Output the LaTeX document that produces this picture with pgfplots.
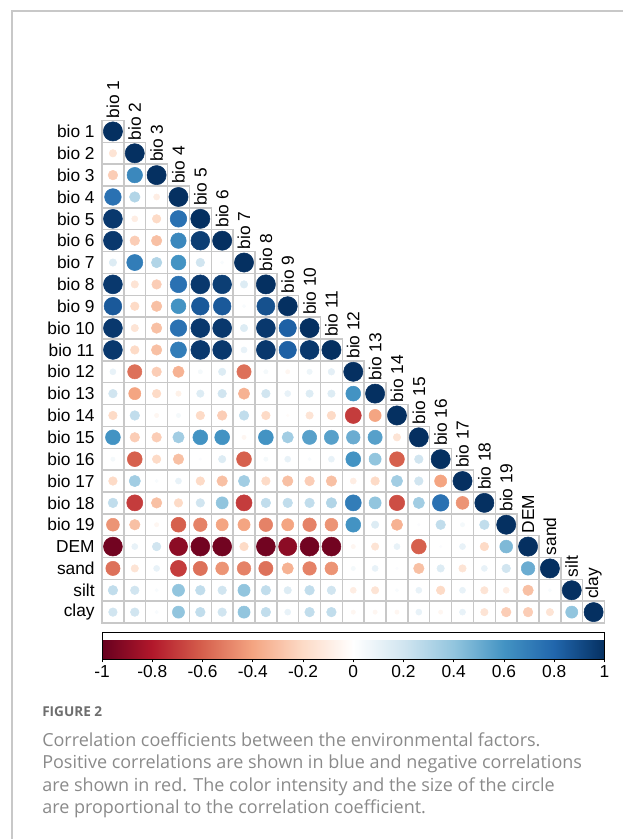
\documentclass[border=0pt]{standalone}
\usepackage{pgfplots}
\pgfplotsset{compat=1.18}
\usepackage{pgfplotstable}
\usepackage{fontspec}
\setmainfont{Liberation Sans}
\newfontfamily\capfont{Open Sans}
\definecolor{cellgrid}{HTML}{C8C8C8}
\definecolor{capgray}{HTML}{8A8A8A}
\definecolor{figgray}{HTML}{6E6E6E}
\definecolor{framegray}{HTML}{C8C8C8}

\pgfplotstableread[row sep=\\]{
x y r\\
1 1 1\\
1 2 -0.15\\ 2 2 1\\
1 3 -0.25\\ 2 3 0.65\\ 3 3 1\\
1 4 0.75\\ 2 4 0.30\\ 3 4 -0.10\\ 4 4 1\\
1 5 0.97\\ 2 5 -0.10\\ 3 5 -0.20\\ 4 5 0.75\\ 5 5 1\\
1 6 0.97\\ 2 6 -0.25\\ 3 6 -0.30\\ 4 6 0.65\\ 5 6 0.95\\ 6 6 1\\
1 7 0.15\\ 2 7 0.70\\ 3 7 0.30\\ 4 7 0.60\\ 5 7 0.20\\ 6 7 0.03\\ 7 7 1\\
1 8 0.97\\ 2 8 -0.15\\ 3 8 -0.25\\ 4 8 0.75\\ 5 8 0.97\\ 6 8 0.95\\ 7 8 0.15\\ 8 8 1\\
1 9 0.85\\ 2 9 -0.20\\ 3 9 -0.30\\ 4 9 0.60\\ 5 9 0.85\\ 6 9 0.85\\ 7 9 0.03\\ 8 9 0.88\\ 9 9 1\\
1 10 0.97\\ 2 10 -0.15\\ 3 10 -0.30\\ 4 10 0.75\\ 5 10 0.97\\ 6 10 0.97\\ 7 10 0.15\\ 8 10 0.97\\ 9 10 0.82\\ 10 10 1\\
1 11 0.97\\ 2 11 -0.20\\ 3 11 -0.30\\ 4 11 0.70\\ 5 11 0.97\\ 6 11 0.97\\ 7 11 0.10\\ 8 11 0.97\\ 9 11 0.82\\ 10 11 0.97\\ 11 11 1\\
1 12 0.10\\ 2 12 -0.55\\ 3 12 -0.25\\ 4 12 -0.35\\ 5 12 0.05\\ 6 12 0.15\\ 7 12 -0.55\\ 8 12 0.05\\ 9 12 -0.05\\ 10 12 0.08\\ 11 12 0.12\\ 12 12 1\\
1 13 0.20\\ 2 13 -0.40\\ 3 13 -0.20\\ 4 13 -0.08\\ 5 13 0.15\\ 6 13 0.20\\ 7 13 -0.35\\ 8 13 0.20\\ 9 13 0.10\\ 10 13 0.15\\ 11 13 0.15\\ 12 13 0.60\\ 13 13 1\\
1 14 -0.20\\ 2 14 0.25\\ 3 14 -0.05\\ 4 14 0.05\\ 5 14 -0.20\\ 6 14 -0.25\\ 7 14 0.25\\ 8 14 -0.20\\ 9 14 -0.02\\ 10 14 -0.15\\ 11 14 -0.20\\ 12 14 -0.70\\ 13 14 -0.40\\ 14 14 1\\
1 15 0.60\\ 2 15 -0.25\\ 3 15 -0.25\\ 4 15 0.35\\ 5 15 0.60\\ 6 15 0.60\\ 7 15 -0.05\\ 8 15 0.60\\ 9 15 0.35\\ 10 15 0.55\\ 11 15 0.55\\ 12 15 0.50\\ 13 15 0.55\\ 14 15 -0.15\\ 15 15 1\\
1 16 0.05\\ 2 16 -0.60\\ 3 16 -0.20\\ 4 16 -0.30\\ 5 16 0.02\\ 6 16 0.15\\ 7 16 -0.60\\ 8 16 0.05\\ 9 16 0.10\\ 10 16 0.03\\ 11 16 0.10\\ 12 16 0.60\\ 13 16 0.40\\ 14 16 -0.60\\ 15 16 0.20\\ 16 16 1\\
1 17 -0.20\\ 2 17 0.35\\ 3 17 0.03\\ 4 17 0.10\\ 5 17 -0.20\\ 6 17 -0.30\\ 7 17 0.35\\ 8 17 -0.20\\ 9 17 -0.30\\ 10 17 -0.25\\ 11 17 -0.30\\ 12 17 -0.10\\ 13 17 -0.20\\ 14 17 0.35\\ 15 17 0.20\\ 16 17 -0.40\\ 17 17 1\\
1 18 0.25\\ 2 18 -0.70\\ 3 18 -0.30\\ 4 18 -0.20\\ 5 18 0.20\\ 6 18 0.40\\ 7 18 -0.70\\ 8 18 0.25\\ 9 18 0.25\\ 10 18 0.25\\ 11 18 0.30\\ 12 18 0.70\\ 13 18 0.40\\ 14 18 -0.65\\ 15 18 0.35\\ 16 18 0.75\\ 17 18 -0.45\\ 18 18 1\\
1 19 -0.45\\ 2 19 -0.30\\ 3 19 -0.05\\ 4 19 -0.60\\ 5 19 -0.50\\ 6 19 -0.40\\ 7 19 -0.40\\ 8 19 -0.50\\ 9 19 -0.40\\ 10 19 -0.50\\ 11 19 -0.45\\ 12 19 0.60\\ 13 19 0.15\\ 14 19 -0.35\\ 15 19 0.02\\ 16 19 0.25\\ 17 19 0.05\\ 18 19 0.25\\ 19 19 1\\
1 20 -0.97\\ 2 20 0.10\\ 3 20 0.20\\ 4 20 -0.90\\ 5 20 -0.97\\ 6 20 -0.97\\ 7 20 -0.20\\ 8 20 -0.97\\ 9 20 -0.90\\ 10 20 -0.97\\ 11 20 -0.97\\ 12 20 -0.05\\ 13 20 -0.15\\ 14 20 0.10\\ 15 20 -0.60\\ 16 20 0.02\\ 17 20 0.10\\ 18 20 -0.20\\ 19 20 0.45\\ 20 20 1\\
1 21 -0.55\\ 2 21 -0.15\\ 3 21 0.10\\ 4 21 -0.70\\ 5 21 -0.55\\ 6 21 -0.45\\ 7 21 -0.50\\ 8 21 -0.55\\ 9 21 -0.35\\ 10 21 -0.50\\ 11 21 -0.45\\ 12 21 0.05\\ 13 21 0.10\\ 14 21 0.02\\ 15 21 -0.30\\ 16 21 0.15\\ 17 21 -0.15\\ 18 21 0.10\\ 19 21 0.20\\ 20 21 0.50\\ 21 21 1\\
1 22 0.25\\ 2 22 0.20\\ 3 22 0.03\\ 4 22 0.40\\ 5 22 0.25\\ 6 22 0.20\\ 7 22 0.40\\ 8 22 0.25\\ 9 22 0.15\\ 10 22 0.25\\ 11 22 0.20\\ 12 22 -0.10\\ 13 22 -0.15\\ 14 22 0.03\\ 15 22 0.10\\ 16 22 -0.20\\ 17 22 0.10\\ 18 22 -0.15\\ 19 22 -0.10\\ 20 22 -0.30\\ 21 22 0.03\\ 22 22 1\\
1 23 0.20\\ 2 23 0.20\\ 3 23 0.03\\ 4 23 0.40\\ 5 23 0.25\\ 6 23 0.20\\ 7 23 0.40\\ 8 23 0.25\\ 9 23 0.10\\ 10 23 0.25\\ 11 23 0.25\\ 12 23 -0.05\\ 13 23 -0.05\\ 14 23 -0.05\\ 15 23 0.10\\ 16 23 -0.05\\ 17 23 0.10\\ 18 23 -0.15\\ 19 23 -0.25\\ 20 23 -0.25\\ 21 23 -0.15\\ 22 23 0.40\\ 23 23 1\\
}\corr

\newcommand{\lab}{\fontsize{13}{13}\selectfont}

\begin{document}
\begin{tikzpicture}[x=0.75pt,y=-0.75pt]
\path[use as bounding box] (0,0) rectangle (623,839);
\draw[framegray, line width=0.9pt] (12,839) -- (12,11) -- (623,11);
\begin{axis}[
  at={(76.5pt,-90.375pt)}, anchor=north west,
  scale only axis, width=376.9pt, height=376.9pt,
  xmin=0.5, xmax=23.5, ymin=0.5, ymax=23.5, y dir=reverse,
  axis line style={draw=none},
  clip=false,
  xtick=\empty,
  ytick={1,2,3,4,5,6,7,8,9,10,11,12,13,14,15,16,17,18,19,20,21,22,23},
  yticklabels={bio 1,bio 2,bio 3,bio 4,bio 5,bio 6,bio 7,bio 8,bio 9,bio 10,bio 11,bio 12,bio 13,bio 14,bio 15,bio 16,bio 17,bio 18,bio 19,DEM,sand,silt,clay},
  major tick length=0pt,
  yticklabel style={font=\lab, xshift=-2pt},
  colormap={rdbu}{rgb255=(103,0,31) rgb255=(178,24,43) rgb255=(214,96,77) rgb255=(244,165,130) rgb255=(253,219,199) rgb255=(255,255,255) rgb255=(209,229,240) rgb255=(146,197,222) rgb255=(67,147,195) rgb255=(33,102,172) rgb255=(5,48,97)},
  point meta min=-1, point meta max=1,
  colorbar horizontal,
  colorbar style={
    at={(parent axis.south west)}, anchor=north west, yshift=1.5pt,
    scale only axis, width=376.9pt, height=20pt,
    xtick={-1,-0.8,-0.6,-0.4,-0.2,0,0.2,0.4,0.6,0.8,1},
    xticklabel style={font=\lab, yshift=1.5pt},
    /pgf/number format/assume math mode=true,
    xtick pos=left, xtick align=outside,
    major tick length=2.5pt,
    axis line style={black, line width=0.6pt},
    tick style={black, line width=0.5pt},
  },
]
\addplot[only marks, mark=square, mark size=8.19pt,
  mark options={draw=cellgrid, line width=1.1pt}] table[x=x, y=y] {\corr};
\addplot[scatter, only marks, mark=*, scatter src=explicit,
  scatter/use mapped color={draw=mapped color, fill=mapped color},
  visualization depends on={7.2*sqrt(abs(\thisrow{r})) \as \rad},
  scatter/@pre marker code/.append style={/tikz/mark size=\rad, /tikz/line width=0.2pt}] table[x=x, y=y, meta=r] {\corr};
\node[rotate=90, anchor=west, inner sep=1.5pt, font=\lab] at (axis cs:1,0.5) {bio 1};
\node[rotate=90, anchor=west, inner sep=1.5pt, font=\lab] at (axis cs:2,1.5) {bio 2};
\node[rotate=90, anchor=west, inner sep=1.5pt, font=\lab] at (axis cs:3,2.5) {bio 3};
\node[rotate=90, anchor=west, inner sep=1.5pt, font=\lab] at (axis cs:4,3.5) {bio 4};
\node[rotate=90, anchor=west, inner sep=1.5pt, font=\lab] at (axis cs:5,4.5) {bio 5};
\node[rotate=90, anchor=west, inner sep=1.5pt, font=\lab] at (axis cs:6,5.5) {bio 6};
\node[rotate=90, anchor=west, inner sep=1.5pt, font=\lab] at (axis cs:7,6.5) {bio 7};
\node[rotate=90, anchor=west, inner sep=1.5pt, font=\lab] at (axis cs:8,7.5) {bio 8};
\node[rotate=90, anchor=west, inner sep=1.5pt, font=\lab] at (axis cs:9,8.5) {bio 9};
\node[rotate=90, anchor=west, inner sep=1.5pt, font=\lab] at (axis cs:10,9.5) {bio 10};
\node[rotate=90, anchor=west, inner sep=1.5pt, font=\lab] at (axis cs:11,10.5) {bio 11};
\node[rotate=90, anchor=west, inner sep=1.5pt, font=\lab] at (axis cs:12,11.5) {bio 12};
\node[rotate=90, anchor=west, inner sep=1.5pt, font=\lab] at (axis cs:13,12.5) {bio 13};
\node[rotate=90, anchor=west, inner sep=1.5pt, font=\lab] at (axis cs:14,13.5) {bio 14};
\node[rotate=90, anchor=west, inner sep=1.5pt, font=\lab] at (axis cs:15,14.5) {bio 15};
\node[rotate=90, anchor=west, inner sep=1.5pt, font=\lab] at (axis cs:16,15.5) {bio 16};
\node[rotate=90, anchor=west, inner sep=1.5pt, font=\lab] at (axis cs:17,16.5) {bio 17};
\node[rotate=90, anchor=west, inner sep=1.5pt, font=\lab] at (axis cs:18,17.5) {bio 18};
\node[rotate=90, anchor=west, inner sep=1.5pt, font=\lab] at (axis cs:19,18.5) {bio 19};
\node[rotate=90, anchor=west, inner sep=1.5pt, font=\lab] at (axis cs:20,19.5) {DEM};
\node[rotate=90, anchor=west, inner sep=1.5pt, font=\lab] at (axis cs:21,20.5) {sand};
\node[rotate=90, anchor=west, inner sep=1.5pt, font=\lab] at (axis cs:22,21.5) {silt};
\node[rotate=90, anchor=west, inner sep=1.5pt, font=\lab] at (axis cs:23,22.5) {clay};
\end{axis}
\node[anchor=base west, inner sep=0, text=figgray, font=\capfont\bfseries\fontsize{10.2}{11}\selectfont] at (42,716.5) {FIGURE 2};
\node[anchor=base west, inner sep=0, text=capgray, font=\capfont\fontsize{13.5}{15}\selectfont] at (42,746) {Correlation coefficients between the environmental factors.};
\node[anchor=base west, inner sep=0, text=capgray, font=\capfont\fontsize{13.5}{15}\selectfont] at (42,768.5) {Positive correlations are shown in blue and negative correlations};
\node[anchor=base west, inner sep=0, text=capgray, font=\capfont\fontsize{13.5}{15}\selectfont] at (42,791) {are shown in red. The color intensity and the size of the circle};
\node[anchor=base west, inner sep=0, text=capgray, font=\capfont\fontsize{13.5}{15}\selectfont] at (42,813.5) {are proportional to the correlation coefficient.};
\end{tikzpicture}
\end{document}
